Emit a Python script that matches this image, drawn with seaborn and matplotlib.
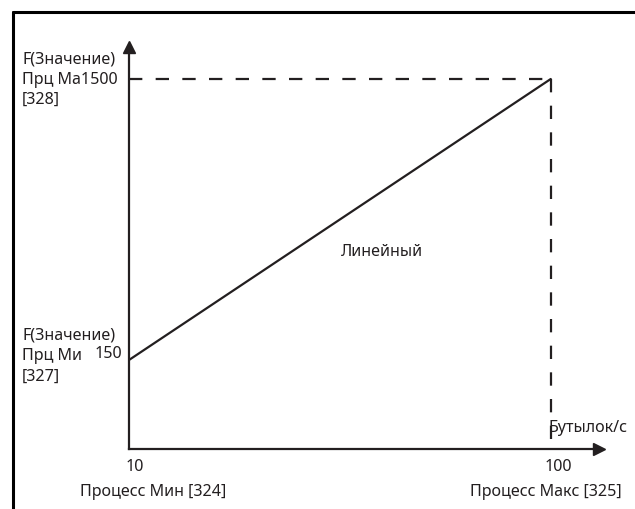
import matplotlib
matplotlib.use("Agg")
import matplotlib.pyplot as plt
import seaborn as sns
import pandas as pd
from matplotlib.lines import Line2D

# данные графика
x_vals = [10, 100]
y_vals = [150, 1500]
x_min, x_max = 10, 100
y_min, y_max = 150, 1500

W, H = 635, 509

sns.set_style("white")
plt.rcParams['font.family'] = ['Noto Sans', 'DejaVu Sans']


def fx(px):
    return px / W


def fy(py):
    return 1 - py / H


fig = plt.figure(figsize=(W / 100, H / 100), dpi=100)
ax = fig.add_axes([fx(129), fy(449), fx(599) - fx(129), fy(47) - fy(449)])

df = pd.DataFrame({'x': x_vals, 'y': y_vals})
sns.lineplot(data=df, x='x', y='y', ax=ax, color='#231f20', linewidth=1.6)

# пунктир до максимума
ax.plot([x_min, x_max], [y_max, y_max], color='#231f20', lw=1.6, ls=(0, (6, 6)))
ax.plot([x_max, x_max], [y_max, -230], color='#231f20', lw=1.6, ls=(0, (6, 6)))

ax.set_xlim(10, 110.3)
ax.set_ylim(-277.6, 1653.7)

for s in ['top', 'right']:
    ax.spines[s].set_visible(False)
for s in ['left', 'bottom']:
    ax.spines[s].set_color('#231f20')
    ax.spines[s].set_linewidth(1.6)
ax.plot(1, 0, '>', color='#231f20', ms=8, transform=ax.transAxes, clip_on=False)
ax.plot(0, 1, '^', color='#231f20', ms=8, transform=ax.transAxes, clip_on=False)
ax.set_xticks([])
ax.set_yticks([])
ax.set_xlabel('')
ax.set_ylabel('')

fs = 11.6
tc = '#231f20'
fig.text(fx(22), fy(60), 'F(Значение)', fontsize=fs, color=tc, va='center')
fig.text(fx(22), fy(80), 'Прц Ма' + str(y_max), fontsize=fs, color=tc, va='center')
fig.text(fx(22), fy(100), '[328]', fontsize=fs, color=tc, va='center')

fig.text(fx(22), fy(335), 'F(Значение)', fontsize=fs, color=tc, va='center')
fig.text(fx(22), fy(356), 'Прц Ми', fontsize=fs, color=tc, va='center')
fig.text(fx(122), fy(354), str(y_min), fontsize=fs, color=tc, va='center', ha='right')
fig.text(fx(22), fy(377), '[327]', fontsize=fs, color=tc, va='center')

fig.text(fx(135), fy(467), str(x_min), fontsize=fs, color=tc, va='center', ha='center')
fig.text(fx(153), fy(492), 'Процесс Мин [324]', fontsize=fs, color=tc, va='center', ha='center')
fig.text(fx(558), fy(467), str(x_max), fontsize=fs, color=tc, va='center', ha='center')
fig.text(fx(546), fy(492), 'Процесс Макс [325]', fontsize=fs, color=tc, va='center', ha='center')
fig.text(fx(382), fy(252), 'Линейный', fontsize=fs, color=tc, va='center', ha='center')
fig.text(fx(548), fy(428), 'Бутылок/с', fontsize=fs, color=tc, va='center', ha='left')

# рамка
fig.add_artist(Line2D([fx(13), fx(13)], [fy(12), 0], color='black', lw=2.2))
fig.add_artist(Line2D([fx(13), 1], [fy(12), fy(12)], color='black', lw=2.2))

fig.savefig('out.png', dpi=100)
